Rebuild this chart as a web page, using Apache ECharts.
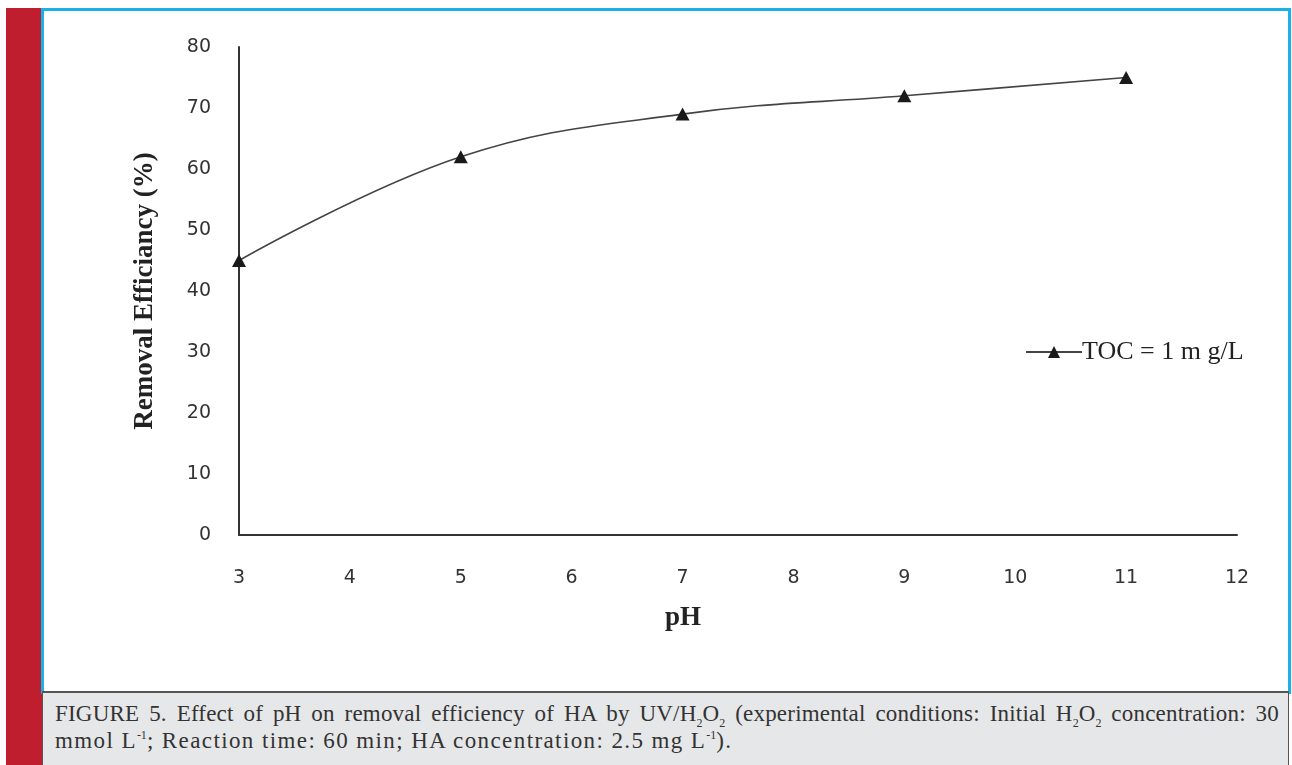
<!DOCTYPE html>
<html><head><meta charset="utf-8">
<script src="https://cdn.jsdelivr.net/npm/echarts@6/dist/echarts.min.js"></script>
<style>
html,body{margin:0;padding:0;width:1292px;height:765px;background:#fff;overflow:hidden;}
#red{position:absolute;left:6px;top:8px;width:36px;height:757px;background:#be1e2d;}
#box{position:absolute;left:41px;top:8px;width:1244px;height:680px;border:3px solid #1ab0e8;background:#fff;}
#cap{position:absolute;left:42px;top:691px;width:1247px;height:74px;background:#e6e7e8;border-top:2px solid #555;border-left:1px solid #555;border-right:1px solid #555;box-sizing:border-box;}
#capt{position:absolute;left:12px;top:7px;width:1224px;font-family:"Liberation Serif","Times New Roman",serif;font-size:23px;line-height:27px;color:#333;}
#l1{text-align:justify;text-align-last:justify;letter-spacing:0.2px;}
#l2{letter-spacing:1.4px;}
#l1,#l2{display:block;}
#capt sup,#capt sub{font-size:12px;line-height:0;letter-spacing:0;}
#chart{position:absolute;left:0;top:0;width:1292px;height:765px;}
</style></head>
<body>
<div id="red"></div>
<div id="box"></div>
<div id="cap"><div id="capt"><span id="l1">FIGURE 5. Effect of pH on removal efficiency of HA by UV/H<sub>2</sub>O<sub>2</sub> (experimental conditions: Initial H<sub>2</sub>O<sub>2</sub> concentration: 30</span><span id="l2">mmol L<sup>-1</sup>; Reaction time: 60 min; HA concentration: 2.5 mg L<sup>-1</sup>).</span></div></div>
<div id="chart"></div>
<script>
var pH = [3, 5, 7, 9, 11];
var removal = [45, 62, 69, 72, 75];
var seriesName = 'TOC = 1 m g/L';
var xTitle = 'pH';
var yTitle = 'Removal Efficiancy (%)';

var chart = echarts.init(document.getElementById('chart'), null, {renderer:'canvas'});
var tickFont = {fontFamily:'"DejaVu Sans", sans-serif', fontSize:19, color:'#333'};
chart.setOption({
  backgroundColor:'transparent',
  animation:false,
  grid:{left:239, top:47, right:55, bottom:230, containLabel:false},
  legend:{
    data:[seriesName], left:1020, top:334, orient:'vertical',
    itemWidth:56, itemHeight:15, itemGap:0,
    textStyle:{fontFamily:'"Liberation Serif", serif', fontSize:26, color:'#222', padding:[0,0,0,-5]}
  },
  xAxis:{
    type:'value', min:3, max:12, interval:1,
    name:xTitle, nameLocation:'middle', nameGap:70,
    nameTextStyle:{fontFamily:'"Liberation Serif", serif', fontWeight:'bold', fontSize:27, color:'#222', padding:[0,110,0,0]},
    axisLine:{show:true, onZero:false, lineStyle:{color:'#333', width:2}},
    axisTick:{show:false},
    splitLine:{show:false},
    axisLabel:Object.assign({margin:34}, tickFont)
  },
  yAxis:{
    type:'value', min:0, max:80, interval:10,
    name:yTitle, nameLocation:'middle', nameGap:72, nameRotate:90,
    nameTextStyle:{fontFamily:'"Liberation Serif", serif', fontWeight:'bold', fontSize:27, color:'#222', padding:[0,0,8,0]},
    axisLine:{show:true, lineStyle:{color:'#333', width:2}},
    axisTick:{show:false},
    splitLine:{show:false},
    axisLabel:Object.assign({margin:28}, tickFont)
  },
  series:[{
    name:seriesName, type:'line', smooth:0.4,
    data:pH.map(function(x,i){return [x, removal[i]];}),
    symbol:'triangle', symbolSize:[14,13],
    itemStyle:{color:'#1a1a1a'},
    lineStyle:{color:'#444', width:1.6}
  }]
});
</script>
</body></html>
